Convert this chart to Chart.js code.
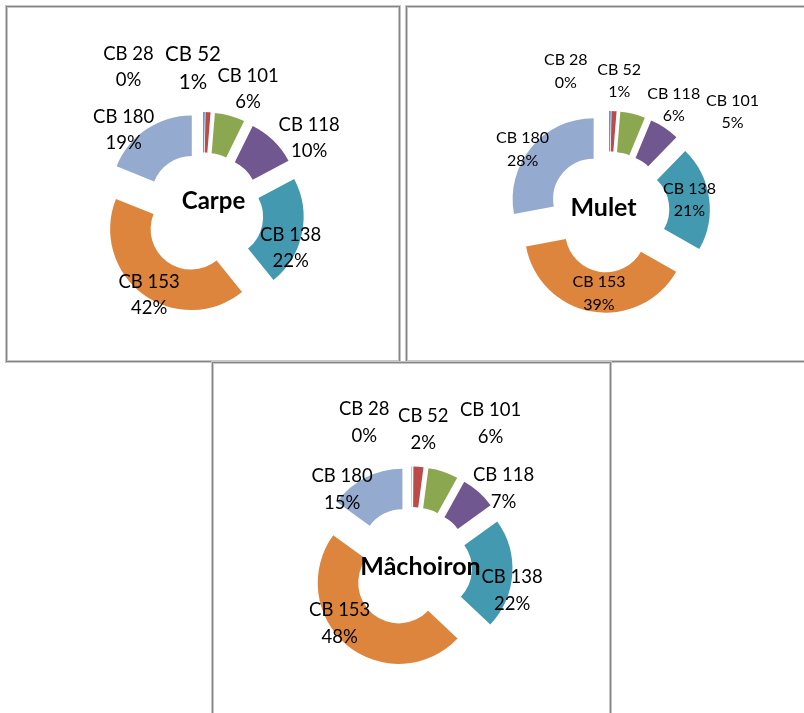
<!DOCTYPE html>
<html>
<head>
<meta charset="utf-8">
<title>Répartition des congénères PCB par espèce</title>
<script src="https://cdn.jsdelivr.net/npm/chart.js@4.4.1/dist/chart.umd.min.js"></script>
<style>
  html, body { margin: 0; padding: 0; background: #fff; }
  body { width: 804px; height: 713px; position: relative; overflow: hidden; }
  .frame {
    position: absolute; box-sizing: border-box;
    border: 1px solid #858585;
    box-shadow: 0 0 0 1px #c6c6c6, inset 0 0 0 1px #c6c6c6;
  }
  canvas { position: absolute; }
</style>
</head>
<body>
<div class="frame" style="left:6px;top:6px;width:394px;height:356px"></div>
<div class="frame" style="left:406px;top:6px;width:420px;height:356px"></div>
<div class="frame" style="left:212px;top:362px;width:399px;height:400px"></div>

<canvas id="carpe"     style="left:6px;top:6px"></canvas>
<canvas id="mulet"     style="left:406px;top:6px"></canvas>
<canvas id="machoiron" style="left:212px;top:362px"></canvas>

<script>
// PCB congeners (share of the sum, %) per fish species
const categories = ['CB 28', 'CB 52', 'CB 101', 'CB 118', 'CB 138', 'CB 153', 'CB 180'];
const carpeValues     = [0.3, 1, 6, 10, 22, 42, 19];
const muletValues     = [0.3, 1, 5, 6, 21, 39, 28];
const machoironValues = [0.1, 2, 6, 7, 22, 48, 15];
const speciesNames    = ['Carpe', 'Mulet', 'Mâchoiron'];

const sliceColors = ['#4a7ebb', '#bb4b48', '#8ba851', '#71578f', '#4399b0', '#dd853d', '#94aacf'];

// Pushes every slice outward along its bisector (exploded ring).
const explodePlugin = {
  id: 'explode',
  afterDatasetUpdate(chart, args, opts) {
    const meta = chart.getDatasetMeta(args.index);
    meta.data.forEach(arc => {
      const mid = (arc.startAngle + arc.endAngle) / 2;
      arc.x += opts.distance * Math.cos(mid);
      arc.y += opts.distance * Math.sin(mid);
    });
  }
};

// Two-line "name / percentage" labels plus the species name in the hole.
const ringLabelPlugin = {
  id: 'ringLabels',
  afterDatasetsDraw(chart, args, opts) {
    const { ctx, chartArea } = chart;
    const cx = (chartArea.left + chartArea.right) / 2;
    const cy = (chartArea.top + chartArea.bottom) / 2;
    const values = chart.data.datasets[0].data;
    const total = values.reduce((a, b) => a + b, 0);
    ctx.save();
    ctx.fillStyle = '#000';
    ctx.textAlign = 'center';
    ctx.textBaseline = 'alphabetic';
    chart.data.labels.forEach((name, i) => {
      const [dx, dy] = opts.positions[i];
      const size = (opts.sizes && opts.sizes[i]) || opts.size;
      const gap = (opts.gaps && opts.gaps[i]) || opts.lineGap;
      ctx.font = size + 'px Lato, "Open Sans", sans-serif';
      const pct = Math.round(values[i] / total * 100) + '%';
      const capHalf = size * 0.358;
      ctx.fillText(name, cx + dx, cy + dy - gap / 2 + capHalf);
      ctx.fillText(pct,  cx + dx, cy + dy + gap / 2 + capHalf);
    });
    ctx.font = 'bold ' + opts.titleSize + 'px Lato, "Open Sans", sans-serif';
    ctx.fillText(opts.title, cx + opts.titlePos[0], cy + opts.titlePos[1] + opts.titleSize * 0.358);
    ctx.restore();
  }
};

function ringChart(canvasId, width, height, center, values, title, labelOpts) {
  const canvas = document.getElementById(canvasId);
  canvas.width = width;
  canvas.height = height;
  const [cx, cy] = center;
  const padding = {
    left:   cx > width / 2 ? 2 * cx - width : 0,
    right:  cx < width / 2 ? width - 2 * cx : 0,
    top:    cy > height / 2 ? 2 * cy - height : 0,
    bottom: cy < height / 2 ? height - 2 * cy : 0
  };
  return new Chart(canvas, {
    type: 'doughnut',
    data: {
      labels: categories,
      datasets: [{
        data: values,
        backgroundColor: sliceColors,
        borderWidth: 0,
        clip: false
      }]
    },
    options: {
      responsive: false,
      animation: false,
      events: [],
      devicePixelRatio: 1,
      radius: 81,
      cutout: '50%',
      layout: { padding },
      plugins: {
        legend: { display: false },
        tooltip: { enabled: false },
        explode: { distance: 20 },
        ringLabels: Object.assign({ title }, labelOpts)
      }
    },
    plugins: [explodePlugin, ringLabelPlugin]
  });
}

ringChart('carpe', 394, 356, [197, 207], carpeValues, speciesNames[0], {
  size: 18.5, lineGap: 26, titleSize: 24,
  sizes: [0, 20.5, 0, 0, 0, 0, 0],
  gaps:  [0, 28, 0, 0, 0, 0, 0],
  positions: [[-74.5, -146.5], [-10, -145], [45, -124.4], [106.2, -76.1], [87.7, 34], [-53.9, 81.2], [-79.3, -83.4]],
  titlePos: [10.5, -12.5]
});

ringChart('mulet', 398, 356, [203, 206], muletValues, speciesNames[1], {
  size: 16, lineGap: 22.5, titleSize: 25,
  positions: [[-43.2, -141.2], [10.2, -131.7], [123.5, -100.9], [64.7, -107.9], [80.5, -12.7], [-10, 81], [-86.4, -63.4]],
  titlePos: [-5.5, -4.5]
});

ringChart('machoiron', 399, 351, [199.5, 205.5], machoironValues, speciesNames[2], {
  size: 18.5, lineGap: 27, titleSize: 25,
  positions: [[-47.3, -145.8], [11.8, -138.6], [79.1, -144.8], [92.1, -79.7], [100.6, 22.7], [-71.8, 55.2], [-69.4, -79]],
  titlePos: [9, -1.7]
});
</script>
</body>
</html>
